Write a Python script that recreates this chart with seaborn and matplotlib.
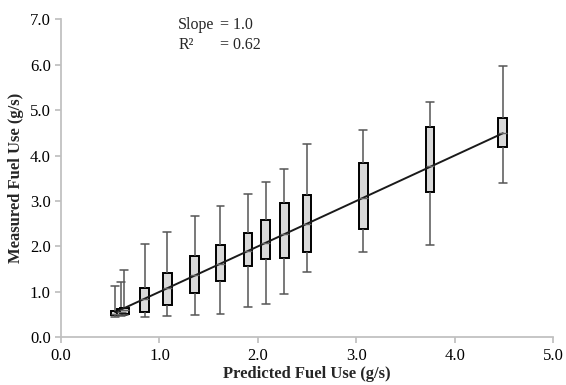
import matplotlib
matplotlib.use("Agg")
import matplotlib.pyplot as plt
import numpy as np
import pandas as pd
import seaborn as sns

sns.set_theme(style="ticks")
plt.rcParams["font.family"] = ["Liberation Serif", "DejaVu Serif"]

# predicted fuel use (bin centre) and measured distribution summary per bin, g/s
pred = [0.55, 0.61, 0.64, 0.85, 1.08, 1.36, 1.62, 1.90, 2.08, 2.27, 2.50, 3.07, 3.75, 4.49]
low = [0.45, 0.47, 0.50, 0.45, 0.47, 0.49, 0.51, 0.67, 0.74, 0.96, 1.43, 1.88, 2.02, 3.39]
q1 = [0.48, 0.50, 0.52, 0.55, 0.70, 0.98, 1.24, 1.56, 1.72, 1.74, 1.87, 2.38, 3.19, 4.18]
med = [0.52, 0.56, 0.59, 0.85, 1.08, 1.36, 1.62, 1.90, 2.08, 2.27, 2.50, 3.07, 3.77, 4.49]
q3 = [0.58, 0.62, 0.65, 1.09, 1.42, 1.78, 2.03, 2.30, 2.58, 2.95, 3.13, 3.83, 4.62, 4.82]
high = [1.12, 1.22, 1.47, 2.05, 2.31, 2.66, 2.89, 3.15, 3.41, 3.71, 4.26, 4.57, 5.18, 5.98]

slope = 1.0
r2 = 0.62

fig, ax = plt.subplots(figsize=(5.66, 3.85), dpi=100)
fig.subplots_adjust(left=0.108, right=0.977, top=0.95, bottom=0.124)

# one call per box so the box width stays in data units
for i in range(len(pred)):
    df = pd.DataFrame({"x": [pred[i]] * 5,
                       "y": [low[i], q1[i], med[i], q3[i], high[i]]})
    sns.boxplot(data=df, x="x", y="y", native_scale=True, width=0.09,
                whis=(0, 100), color="#d9d9d9", saturation=1,
                linecolor="black", linewidth=1.4,
                whiskerprops=dict(color="#555555", linewidth=1.1),
                capprops=dict(color="#555555", linewidth=1.1),
                medianprops=dict(color="#666666", linewidth=1.0),
                capwidths=0.08, ax=ax)

# fitted line
fit = pd.DataFrame({"x": [pred[0], pred[-1]]})
fit["y"] = slope * fit["x"]
sns.lineplot(data=fit, x="x", y="y", color="#1a1a1a", linewidth=1.4, ax=ax)

ax.set_xlim(0, 5)
ax.set_ylim(0, 7)
ax.set_xticks(np.arange(0, 6, 1))
ax.set_yticks(np.arange(0, 8, 1))
ax.set_xticklabels([f"{v:.1f}" for v in range(6)])
ax.set_yticklabels([f"{v:.1f}" for v in range(8)])
ax.tick_params(colors="#bfbfbf", labelcolor="black", labelsize=12, length=4)
sns.despine(ax=ax)
for s in ["left", "bottom"]:
    ax.spines[s].set_color("#bfbfbf")

ax.set_xlabel("Predicted Fuel Use (g/s)", fontsize=12, fontweight="bold", labelpad=2)
ax.set_ylabel("Measured Fuel Use (g/s)", fontsize=12, fontweight="bold", labelpad=4)

ax.text(1.19, 6.88, "Slope", fontsize=11.5, va="center")
ax.text(1.61, 6.88, f"= {slope:.1f}", fontsize=11.5, va="center")
ax.text(1.19, 6.44, "R²", fontsize=11.5, va="center")
ax.text(1.61, 6.44, f"= {r2:.2f}", fontsize=11.5, va="center")

fig.savefig("out.png", dpi=100)
